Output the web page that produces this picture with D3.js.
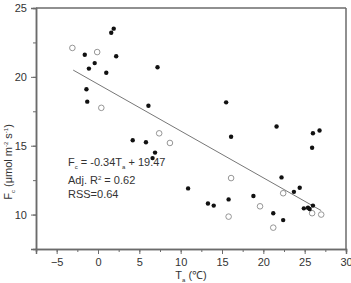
<!DOCTYPE html>
<html>
<head>
<meta charset="utf-8">
<script src="https://cdn.jsdelivr.net/npm/d3@7"></script>
<style>
  body { margin: 0; background: #fff; }
  text { font-family: "Liberation Sans", Arial, sans-serif; }
</style>
</head>
<body>
<div id="chart"></div>
<script>
// filled points (Ta, Fc)
var filledTa = [-1.6, -0.4, -1.1, 1.0, 1.6, 1.9, 2.2, 7.2, -1.4, -1.3, 6.1, 4.2, 5.8, 6.9, 6.6,
  15.5, 21.6, 16.1, 26.0, 26.8, 25.9, 10.9, 22.2, 23.7, 24.4, 13.3, 14.0, 15.8, 18.8, 21.2, 22.4,
  24.9, 25.4, 25.6, 26.0];
var filledFc = [21.6, 21.0, 20.6, 20.3, 23.2, 23.5, 21.5, 20.7, 19.1, 18.2, 17.9, 15.4, 15.25, 14.5, 14.1,
  18.15, 16.4, 15.65, 15.9, 16.1, 14.85, 11.9, 12.7, 11.65, 11.95, 10.8, 10.65, 11.1, 11.35, 10.1, 9.6,
  10.45, 10.5, 10.4, 10.65];
// open points (Ta, Fc)
var openTa = [-3.1, -0.1, 0.4, 7.4, 8.7, 16.1, 22.4, 19.6, 15.8, 21.2, 25.9, 27.0];
var openFc = [22.1, 21.8, 17.75, 15.9, 15.2, 12.65, 11.55, 10.6, 9.85, 9.05, 10.1, 10.0];

var xTicks = [-5, 0, 5, 10, 15, 20, 25, 30];
var yTicks = [10, 15, 20, 25];
var fitSlope = -0.34, fitIntercept = 19.47, fitRange = [-3, 27];

var margin = { top: 8, right: 5, bottom: 34, left: 36 },
  width = 351 - margin.left - margin.right,
  height = 283 - margin.top - margin.bottom;

var x = d3.scaleLinear().domain([-7.5, 30]).range([0, width]);
var y = d3.scaleLinear().domain([7.5, 25]).range([height, 0]);

var svg = d3.select("#chart").append("svg")
  .attr("width", 351).attr("height", 283)
  .append("g")
  .attr("transform", "translate(" + margin.left + "," + margin.top + ")");

var axisColor = "#6b6b6b";

// frame (top and right)
svg.append("line").attr("x1", 0).attr("x2", width).attr("y1", 0).attr("y2", 0)
  .attr("stroke", axisColor).attr("stroke-width", 1.5);
svg.append("line").attr("x1", width).attr("x2", width).attr("y1", 0).attr("y2", height)
  .attr("stroke", axisColor).attr("stroke-width", 1.5);

// minor ticks
var xMinor = d3.range(-7.5, 30.01, 2.5);
var yMinor = d3.range(7.5, 25.01, 2.5);

var gx = svg.append("g").attr("transform", "translate(0," + height + ")")
  .call(d3.axisBottom(x).tickValues(xMinor).tickSize(3).tickFormat(""));
var gx2 = svg.append("g").attr("transform", "translate(0," + height + ")")
  .call(d3.axisBottom(x).tickValues(xTicks).tickSize(5).tickPadding(4).tickFormat(d3.format("d")));
var gy = svg.append("g")
  .call(d3.axisLeft(y).tickValues(yMinor).tickSize(3).tickFormat(""));
var gy2 = svg.append("g")
  .call(d3.axisLeft(y).tickValues(yTicks).tickSize(5).tickPadding(4).tickFormat(d3.format("d")));

[gx, gx2, gy, gy2].forEach(function (g) {
  g.select(".domain").attr("stroke", axisColor).attr("stroke-width", 1.5);
  g.selectAll(".tick line").attr("stroke", axisColor);
  g.selectAll(".tick text").attr("fill", "#333").style("font-size", "11px")
    .style("font-family", "'Liberation Sans', Arial, sans-serif");
});

// regression line
svg.append("line")
  .attr("x1", x(fitRange[0])).attr("y1", y(fitSlope * fitRange[0] + fitIntercept))
  .attr("x2", x(fitRange[1])).attr("y2", y(fitSlope * fitRange[1] + fitIntercept))
  .attr("stroke", "#777").attr("stroke-width", 1);

// open circles
svg.selectAll(".open").data(openTa).enter().append("circle")
  .attr("class", "open")
  .attr("cx", function (d) { return x(d); })
  .attr("cy", function (d, i) { return y(openFc[i]); })
  .attr("r", 2.8)
  .attr("fill", "none").attr("stroke", "#8a8a8a").attr("stroke-width", 0.9);

// filled circles
svg.selectAll(".filled").data(filledTa).enter().append("circle")
  .attr("class", "filled")
  .attr("cx", function (d) { return x(d); })
  .attr("cy", function (d, i) { return y(filledFc[i]); })
  .attr("r", 2.2)
  .attr("fill", "#111");

// annotation
var ann = svg.append("g").attr("fill", "#333").style("font-size", "11px");
var t1 = ann.append("text").attr("x", 32).attr("y", 158);
t1.append("tspan").text("F");
t1.append("tspan").attr("dy", 3).style("font-size", "6px").text("c");
t1.append("tspan").attr("dy", -3).text(" = -0.34T");
t1.append("tspan").attr("dy", 3).style("font-size", "6px").text("a");
t1.append("tspan").attr("dy", -3).text(" + 19.47");
var t2 = ann.append("text").attr("x", 32).attr("y", 176);
t2.append("tspan").text("Adj. R");
t2.append("tspan").attr("dy", -4).style("font-size", "6px").text("2");
t2.append("tspan").attr("dy", 4).text(" = 0.62");
ann.append("text").attr("x", 32).attr("y", 190).text("RSS=0.64");

// x label
var xl = svg.append("text").attr("x", width / 2).attr("y", height + 30)
  .attr("text-anchor", "middle").attr("fill", "#333").style("font-size", "11px");
xl.append("tspan").text("T");
xl.append("tspan").attr("dy", 3).style("font-size", "6px").text("a");
xl.append("tspan").attr("dy", -3).text(" (℃)");

// y label
var yl = svg.append("text")
  .attr("transform", "translate(" + (-24) + "," + 154 + ") rotate(-90)")
  .attr("text-anchor", "middle").attr("fill", "#333").style("font-size", "11px");
yl.append("tspan").text("F");
yl.append("tspan").attr("dy", 3).style("font-size", "6px").text("c");
yl.append("tspan").attr("dy", -3).text(" (μmol m");
yl.append("tspan").attr("dy", -4).style("font-size", "6px").text("-2");
yl.append("tspan").attr("dy", 4).text(" s");
yl.append("tspan").attr("dy", -4).style("font-size", "6px").text("-1");
yl.append("tspan").attr("dy", 4).text(")");
</script>
</body>
</html>
